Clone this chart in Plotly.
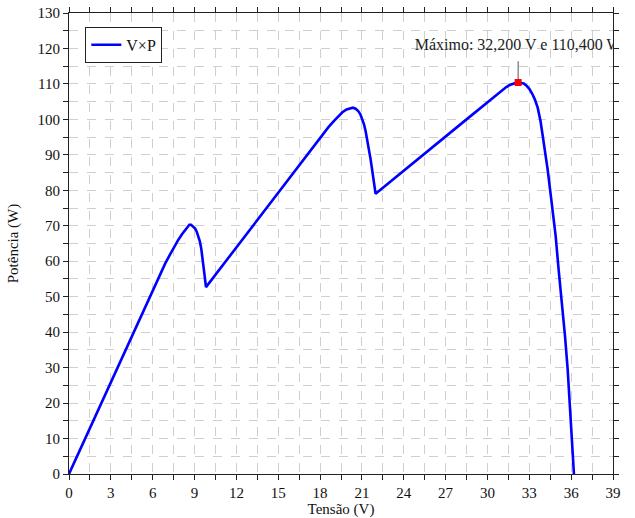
import plotly.graph_objects as go

# Curva P-V do painel (tensão em V, potência em W)
tensao = [0.0, 3.0, 6.0, 6.6, 6.9, 7.2, 7.5, 7.8, 8.1, 8.35, 8.5, 8.63,
          8.75, 8.9, 9.03, 9.15, 9.27, 9.38, 9.48, 9.57, 9.65, 9.72, 9.78, 9.82,
          15.0, 17.8, 18.2, 18.6, 19.0, 19.3, 19.6, 19.9, 20.15, 20.35, 20.55,
          20.72, 20.88, 21.02, 21.15, 21.27, 21.38, 21.5, 21.62, 21.74, 21.86,
          21.98,
          28.5, 30.8, 31.1, 31.35, 31.6, 31.85, 32.05, 32.2, 32.4, 32.6, 32.8,
          33.0, 33.2, 33.4, 33.6, 33.8, 33.96, 34.15, 34.31, 34.6, 34.89, 35.1,
          35.34, 35.56, 35.75, 35.91, 36.06, 36.2]
potencia = [0.0, 25.9, 51.7, 56.9, 59.4, 61.6, 63.8, 65.8, 67.6, 69.0, 69.8,
            70.3, 70.3, 69.9, 69.3, 68.4, 67.2, 65.6, 63.6, 61.2, 58.5, 56.0,
            54.0, 52.7,
            79.3, 93.8, 95.8, 97.8, 99.6, 100.9, 102.0, 102.8, 103.2, 103.3,
            103.0, 102.4, 101.5, 100.2, 98.6, 96.6, 94.4, 91.8, 88.8, 85.6,
            82.3, 79.0,
            100.0, 107.5, 108.4, 109.1, 109.7, 110.1, 110.35, 110.4, 110.3,
            110.1, 109.5, 108.6, 107.3, 105.6, 103.3, 99.6, 95.4, 90.6, 86.0,
            76.6, 67.1, 57.7, 48.3, 38.9, 29.5, 20.1, 10.6, 0.0]

v_max = 32.2
p_max = 110.4
rotulo_max = "Máximo: 32,200 V e 110,400 W"

x_ticks = list(range(0, 40, 3))
y_ticks = list(range(0, 131, 10))

fonte = "Liberation Serif"

fig = go.Figure()
fig.add_trace(go.Scatter(
    x=tensao, y=potencia, mode="lines", name="V×P",
    line=dict(color="#0000ff", width=2.6),
))
fig.add_trace(go.Scatter(
    x=[v_max], y=[p_max], mode="markers", showlegend=False,
    marker=dict(color="#ff0000", size=7, symbol="square"),
))
# rótulo do ponto máximo, recortado pela área do gráfico
fig.add_trace(go.Scatter(
    x=[v_max], y=[p_max + 10.2], mode="text", text=[rotulo_max],
    textposition="middle center", showlegend=False, cliponaxis=True,
    textfont=dict(family=fonte, size=16, color="#222"),
))
fig.add_shape(type="line", x0=v_max, x1=v_max, y0=p_max, y1=p_max + 6,
              line=dict(color="#555", width=1), layer="below")

eixo = dict(
    showline=True, linecolor="#222", linewidth=1.2, mirror="ticks",
    ticks="outside", ticklen=5, tickcolor="#222", tickwidth=1,
    showgrid=True, gridcolor="#cfcfcf", griddash="dash", gridwidth=1,
    zeroline=False, automargin=False,
    tickfont=dict(family=fonte, size=15, color="#111"),
)

fig.update_xaxes(
    **eixo, range=[0, 39], tickvals=x_ticks,
    minor=dict(dtick=1.5, tick0=0, ticks="outside", ticklen=5, tickcolor="#222",
               showgrid=True, gridcolor="#cfcfcf", griddash="dash"),
    title=dict(text="Tensão (V)", font=dict(family=fonte, size=15, color="#111")),
)
fig.update_yaxes(
    **eixo, range=[0, 130], tickvals=y_ticks,
    minor=dict(dtick=5, tick0=0, ticks="outside", ticklen=5, tickcolor="#222",
               showgrid=True, gridcolor="#cfcfcf", griddash="dash"),
    title=dict(text="Potência (W)", font=dict(family=fonte, size=15, color="#111")),
)

fig.update_layout(
    width=635, height=518,
    margin=dict(l=69, r=22, t=13, b=44),
    paper_bgcolor="white", plot_bgcolor="white",
    font=dict(family=fonte, size=15, color="#111"),
    legend=dict(x=0.03, y=0.97, xanchor="left", yanchor="top",
                bgcolor="white", bordercolor="#222", borderwidth=1,
                font=dict(family=fonte, size=16), itemwidth=30,
                tracegroupgap=0),
    showlegend=True,
)

fig.write_html("out.html")
